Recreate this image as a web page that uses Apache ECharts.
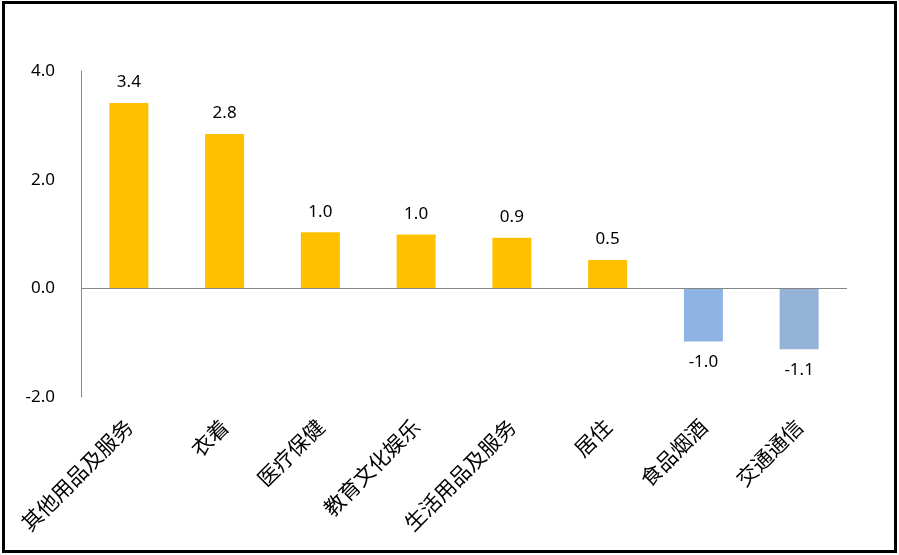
<!DOCTYPE html>
<html>
<head>
<meta charset="utf-8">
<script src="https://cdn.jsdelivr.net/npm/echarts@6/dist/echarts.min.js"></script>
<style>
html,body{margin:0;padding:0;background:#fff;}
#chart{position:absolute;left:0;top:0;width:899px;height:555px;}
#frame{position:absolute;left:2px;top:1px;width:895px;height:552px;box-sizing:border-box;border:3px solid #000;pointer-events:none;}
</style>
</head>
<body>
<div id="chart"></div>
<div id="frame"></div>
<script>
const categories = ['其他用品及服务','衣着','医疗保健','教育文化娱乐','生活用品及服务','居住','食品烟酒','交通通信'];
const values = [3.41, 2.84, 1.03, 0.99, 0.93, 0.52, -0.98, -1.12];
const barColors = ['#FFC000','#FFC000','#FFC000','#FFC000','#FFC000','#FFC000','#8DB4E2','#95B3D7'];
const yTicks = {min: -2, max: 4, interval: 2};

const chart = echarts.init(document.getElementById('chart'));
chart.setOption({
  animation: false,
  grid: {left: 81, right: 52, top: 71, bottom: 158},
  xAxis: {
    type: 'category',
    data: categories,
    axisLine: {show: false, onZero: false},
    axisTick: {show: false},
    axisLabel: {
      rotate: 45, margin: 26, interval: 0,
      fontFamily: 'Noto Sans CJK SC', fontSize: 21, color: '#000'
    }
  },
  yAxis: {
    type: 'value',
    min: yTicks.min, max: yTicks.max, interval: yTicks.interval,
    axisLine: {show: true, lineStyle: {color: '#868686', width: 1}},
    axisTick: {show: false},
    splitLine: {show: false},
    axisLabel: {
      margin: 26, fontFamily: 'Noto Sans', fontSize: 17, color: '#000',
      formatter: v => v.toFixed(1)
    }
  },
  series: [{
    type: 'bar',
    barWidth: 39,
    data: values.map((v, i) => ({
      value: v,
      itemStyle: {color: barColors[i]},
      label: {position: v < 0 ? 'bottom' : 'top'}
    })),
    label: {
      show: true, distance: 12,
      fontFamily: 'Noto Sans', fontSize: 17, color: '#000',
      formatter: p => p.value.toFixed(1)
    },
    markLine: {
      silent: true, symbol: 'none', label: {show: false},
      lineStyle: {color: '#868686', width: 1, type: 'solid'},
      data: [{yAxis: 0}]
    }
  }]
});
</script>
</body>
</html>
